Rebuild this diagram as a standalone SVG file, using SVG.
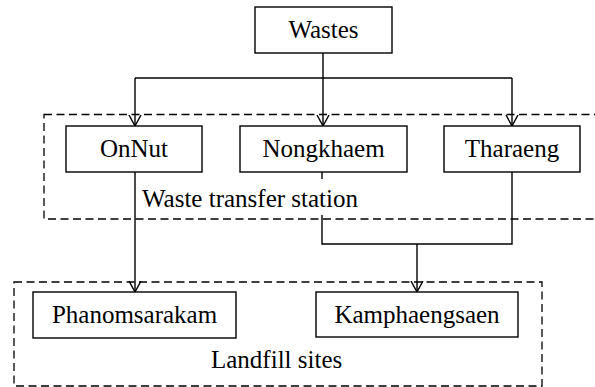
<svg xmlns="http://www.w3.org/2000/svg" width="595" height="387" viewBox="0 0 595 387">
<style>
  .box { fill: #fff; stroke: #000; stroke-width: 1.4; }
  .grp { fill: none; stroke: #000; stroke-width: 1.3; stroke-dasharray: 8 4.5; }
  .lbl { font-size: 25px; fill: #000; }
  .c { text-anchor: middle; }
  .conn { fill: none; stroke: #000; stroke-width: 1.4; }
</style>
<defs>
  <marker id="arr" viewBox="0 0 12 14" refX="11" refY="7" markerWidth="12" markerHeight="14" markerUnits="userSpaceOnUse" orient="auto">
    <path d="M0,1 L11,7 L0,13" fill="none" stroke="#000" stroke-width="1.4"/>
  </marker>
</defs>
<rect id="transfer-group" class="grp" x="44" y="114.5" width="560" height="104.5"/>
<rect id="landfill-group" class="grp" x="14" y="282" width="528" height="104"/>
<g font-family="Liberation Serif, Times New Roman, Times, serif">
<text class="lbl" x="142" y="207">Waste transfer station</text>
<text class="lbl" x="211" y="368">Landfill sites</text>
</g>
<g id="connectors">
  <path class="conn" d="M323,53 V126" marker-end="url(#arr)"/>
  <path class="conn" d="M135,78 H512"/>
  <path class="conn" d="M135,78 V126" marker-end="url(#arr)"/>
  <path class="conn" d="M512,78 V126" marker-end="url(#arr)"/>
  <path class="conn" d="M135,172 V292" marker-end="url(#arr)"/>
  <path class="conn" d="M322,172 V179"/>
  <path class="conn" d="M322,215 V244 H512 V172"/>
  <path class="conn" d="M417,244 V292" marker-end="url(#arr)"/>
</g>
<g font-family="Liberation Serif, Times New Roman, Times, serif">
<g id="wastes"><rect class="box" x="255" y="7" width="137" height="46"/><text class="lbl c" x="323.5" y="38">Wastes</text></g>
<g id="onnut"><rect class="box" x="66" y="126" width="136" height="46"/><text class="lbl c" x="134" y="157">OnNut</text></g>
<g id="nongkhaem"><rect class="box" x="240" y="126" width="167" height="46"/><text class="lbl c" x="323.5" y="157">Nongkhaem</text></g>
<g id="tharaeng"><rect class="box" x="444" y="126" width="136" height="46"/><text class="lbl c" x="512" y="157">Tharaeng</text></g>
<g id="phanomsarakam"><rect class="box" x="33" y="292" width="203" height="46"/><text class="lbl c" x="134.5" y="323">Phanomsarakam</text></g>
<g id="kamphaengsaen"><rect class="box" x="316" y="292" width="202" height="45"/><text class="lbl c" x="417" y="323">Kamphaengsaen</text></g>
</g>
</svg>
